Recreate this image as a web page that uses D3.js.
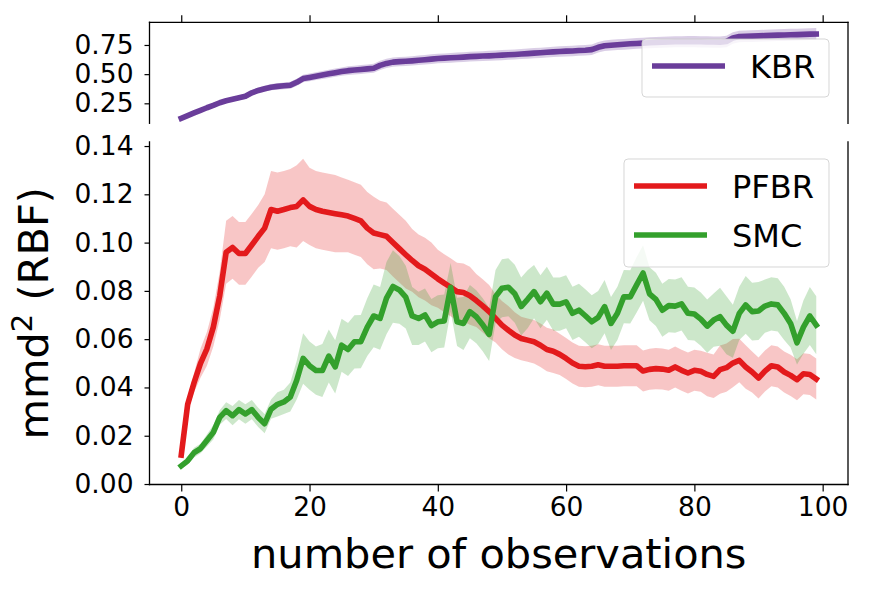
<!DOCTYPE html>
<html>
<head>
<meta charset="utf-8">
<script src="https://cdn.jsdelivr.net/npm/d3@7"></script>
<style>
  html, body { margin: 0; padding: 0; background: #fff; }
  svg { display: block; }
  text { font-family: "DejaVu Sans", sans-serif; fill: #000; }
</style>
</head>
<body>
<svg id="chart" width="869" height="591"></svg>
<script>
// ---------------- DATA ----------------
const steps = d3.range(0, 100);                 // number of observations
const xTicks = [0, 20, 40, 60, 80, 100];
const topYTicks = [0.25, 0.50, 0.75];
const bottomYTicks = [0.00, 0.02, 0.04, 0.06, 0.08, 0.10, 0.12, 0.14];

const kbrMean = [
  0.122,0.145,0.168,0.190,0.212,0.232,0.255,0.272,0.285,0.297,
  0.310,0.340,0.360,0.375,0.388,0.395,0.400,0.405,0.430,0.462,
  0.472,0.483,0.493,0.503,0.513,0.522,0.530,0.535,0.540,0.545,
  0.550,0.575,0.592,0.603,0.607,0.610,0.614,0.619,0.624,0.629,
  0.634,0.637,0.640,0.643,0.646,0.650,0.652,0.655,0.657,0.660,
  0.663,0.666,0.669,0.672,0.676,0.680,0.683,0.687,0.691,0.694,
  0.697,0.699,0.702,0.705,0.710,0.730,0.743,0.748,0.752,0.756,
  0.760,0.763,0.766,0.769,0.772,0.774,0.776,0.777,0.778,0.778,
  0.778,0.777,0.776,0.775,0.774,0.780,0.810,0.822,0.824,0.826,
  0.828,0.830,0.832,0.834,0.835,0.837,0.839,0.841,0.843,0.844];
const kbrStd = [
  0.012,0.013,0.014,0.015,0.016,0.017,0.018,0.019,0.020,0.021,
  0.022,0.024,0.025,0.026,0.027,0.028,0.029,0.030,0.031,0.032,
  0.033,0.034,0.035,0.035,0.036,0.036,0.037,0.037,0.038,0.038,
  0.039,0.039,0.040,0.040,0.040,0.040,0.040,0.041,0.041,0.041,
  0.041,0.041,0.042,0.042,0.042,0.042,0.042,0.042,0.043,0.043,
  0.043,0.043,0.043,0.043,0.044,0.044,0.044,0.044,0.044,0.044,
  0.045,0.045,0.045,0.045,0.045,0.045,0.045,0.046,0.046,0.046,
  0.046,0.046,0.046,0.047,0.047,0.047,0.047,0.047,0.047,0.048,
  0.048,0.048,0.048,0.048,0.048,0.049,0.049,0.049,0.049,0.050,
  0.050,0.050,0.050,0.050,0.051,0.051,0.051,0.051,0.051,0.051];

const pfbrMean = [
  0.012,0.033,0.042,0.050,0.056,0.065,0.078,0.096,0.098,0.0955,
  0.0955,0.099,0.1026,0.106,0.1137,0.113,0.1137,0.1145,0.115,0.1177,
  0.115,0.1137,0.113,0.1125,0.112,0.1115,0.111,0.110,0.109,0.106,
  0.104,0.1033,0.1026,0.100,0.0975,0.095,0.0926,0.0904,0.089,0.087,
  0.085,0.0832,0.0815,0.0797,0.0793,0.078,0.076,0.0738,0.0714,0.0686,
  0.0658,0.0637,0.0617,0.0603,0.0596,0.0589,0.0575,0.0557,0.055,0.0537,
  0.052,0.0501,0.0488,0.0486,0.0488,0.0494,0.0488,0.0488,0.0488,0.049,
  0.049,0.049,0.0468,0.0475,0.0478,0.0476,0.0471,0.0485,0.0471,0.046,
  0.0471,0.0467,0.0454,0.0446,0.0474,0.0482,0.0501,0.0512,0.0485,0.0464,
  0.0439,0.0468,0.049,0.0485,0.0464,0.045,0.0432,0.0457,0.0454,0.0435];
const pfbrStd = [
  0.002,0.003,0.004,0.006,0.007,0.008,0.010,0.013,0.013,0.013,
  0.013,0.013,0.013,0.014,0.016,0.016,0.016,0.016,0.017,0.017,
  0.016,0.016,0.016,0.016,0.016,0.0155,0.015,0.015,0.015,0.015,
  0.015,0.014,0.014,0.014,0.014,0.014,0.013,0.013,0.013,0.013,
  0.012,0.012,0.012,0.012,0.012,0.012,0.011,0.011,0.011,0.010,
  0.010,0.010,0.0095,0.009,0.009,0.009,0.009,0.009,0.009,0.0085,
  0.0085,0.0085,0.0085,0.0085,0.0085,0.0085,0.0085,0.0085,0.0085,0.0085,
  0.0085,0.0085,0.0085,0.0085,0.0085,0.0085,0.0085,0.0085,0.0085,0.0085,
  0.0085,0.0085,0.009,0.009,0.010,0.010,0.010,0.009,0.009,0.0085,
  0.0085,0.0085,0.0085,0.0085,0.0085,0.0085,0.0085,0.0085,0.0085,0.0085];

const smcMean = [
  0.0075,0.0096,0.013,0.0147,0.018,0.0214,0.0276,0.0304,0.0283,0.0308,
  0.029,0.0308,0.0276,0.025,0.031,0.033,0.034,0.036,0.043,0.052,
  0.049,0.047,0.047,0.053,0.0485,0.0575,0.0557,0.0589,0.059,0.065,
  0.0696,0.0686,0.077,0.0818,0.0804,0.0774,0.0696,0.0686,0.070,0.0656,
  0.0672,0.0675,0.0815,0.0672,0.0665,0.0714,0.0693,0.066,0.062,0.0776,
  0.0811,0.0815,0.0788,0.0735,0.0765,0.0797,0.0755,0.079,0.0745,0.0745,
  0.0755,0.0707,0.072,0.0697,0.0672,0.069,0.0735,0.0665,0.0707,0.0776,
  0.0775,0.0825,0.0874,0.0788,0.0765,0.072,0.0739,0.0737,0.0746,0.0707,
  0.0704,0.0683,0.0654,0.0679,0.0693,0.0658,0.0633,0.0707,0.0742,0.0714,
  0.0717,0.0737,0.0746,0.0742,0.0707,0.0665,0.0585,0.065,0.0696,0.0658];
const smcStd = [
  0.001,0.0015,0.002,0.002,0.0025,0.003,0.003,0.0035,0.004,0.004,
  0.004,0.004,0.004,0.004,0.004,0.005,0.005,0.006,0.008,0.0105,
  0.010,0.010,0.011,0.011,0.011,0.011,0.011,0.011,0.011,0.012,
  0.013,0.013,0.015,0.015,0.014,0.013,0.012,0.011,0.011,0.011,
  0.011,0.011,0.010,0.010,0.011,0.011,0.011,0.011,0.011,0.011,
  0.012,0.012,0.012,0.012,0.012,0.011,0.011,0.011,0.011,0.011,
  0.011,0.011,0.011,0.011,0.011,0.011,0.011,0.011,0.011,0.011,
  0.011,0.0115,0.0115,0.011,0.011,0.011,0.011,0.011,0.011,0.011,
  0.011,0.011,0.011,0.011,0.012,0.012,0.011,0.011,0.012,0.012,
  0.012,0.011,0.011,0.011,0.011,0.010,0.009,0.011,0.012,0.012];

const colors = { KBR: "#6a3d9a", PFBR: "#e31a1c", SMC: "#33a02c" };

// ---------------- LAYOUT ----------------
const svg = d3.select("#chart");
const xLeft = 149.5, xRight = 848;
const topP = { y0: 22.3, y1: 123.3 };
const botP = { y0: 142, y1: 484.5 };
const lineW = 5.6;

const x = d3.scaleLinear().domain([-4.95, 103.95]).range([xLeft, xRight]);
const yTop = d3.scaleLinear().domain([0.0788, 0.9443]).range([topP.y1, topP.y0]);
const yBot = d3.scaleLinear().domain([-0.0002, 0.14167]).range([botP.y1, botP.y0]);

function band(yS, mean, sd) {
  return d3.area()
    .x((d, i) => x(steps[i]))
    .y0((d, i) => yS(mean[i] - sd[i]))
    .y1((d, i) => yS(mean[i] + sd[i]))(mean);
}
function line(yS, mean) {
  return d3.line().x((d, i) => x(steps[i])).y(d => yS(d))(mean);
}

// clip paths
const defs = svg.append("defs");
defs.append("clipPath").attr("id", "clipTop").append("rect")
  .attr("x", xLeft).attr("y", topP.y0).attr("width", xRight - xLeft).attr("height", topP.y1 - topP.y0);
defs.append("clipPath").attr("id", "clipBot").append("rect")
  .attr("x", xLeft).attr("y", botP.y0).attr("width", xRight - xLeft).attr("height", botP.y1 - botP.y0);

// ---------------- TOP PANEL ----------------
const gTop = svg.append("g").attr("clip-path", "url(#clipTop)");
gTop.append("path").attr("d", band(yTop, kbrMean, kbrStd))
  .attr("fill", colors.KBR).attr("fill-opacity", 0.25).attr("stroke", "none");
gTop.append("path").attr("d", line(yTop, kbrMean))
  .attr("fill", "none").attr("stroke", colors.KBR).attr("stroke-width", lineW)
  .attr("stroke-linejoin", "round").attr("stroke-linecap", "square");

// ---------------- BOTTOM PANEL ----------------
const gBot = svg.append("g").attr("clip-path", "url(#clipBot)");
gBot.append("path").attr("d", band(yBot, pfbrMean, pfbrStd))
  .attr("fill", colors.PFBR).attr("fill-opacity", 0.25);
gBot.append("path").attr("d", band(yBot, smcMean, smcStd))
  .attr("fill", colors.SMC).attr("fill-opacity", 0.25);
gBot.append("path").attr("d", line(yBot, pfbrMean))
  .attr("fill", "none").attr("stroke", colors.PFBR).attr("stroke-width", lineW)
  .attr("stroke-linejoin", "round").attr("stroke-linecap", "square");
gBot.append("path").attr("d", line(yBot, smcMean))
  .attr("fill", "none").attr("stroke", colors.SMC).attr("stroke-width", lineW)
  .attr("stroke-linejoin", "round").attr("stroke-linecap", "square");

// ---------------- AXES ----------------
const tickFont = 26.5;
const axTopX = svg.append("g").attr("transform", `translate(0,${topP.y0})`)
  .call(d3.axisTop(x).tickValues(xTicks).tickSize(7).tickFormat(""));
const axTopY = svg.append("g").attr("transform", `translate(${xLeft},0)`)
  .call(d3.axisLeft(yTop).tickValues(topYTicks).tickSize(5).tickPadding(11).tickFormat(d3.format(".2f")));
const axBotX = svg.append("g").attr("transform", `translate(0,${botP.y1})`)
  .call(d3.axisBottom(x).tickValues(xTicks).tickSize(7).tickPadding(6).tickFormat(d3.format("d")));
const axBotY = svg.append("g").attr("transform", `translate(${xLeft},0)`)
  .call(d3.axisLeft(yBot).tickValues(bottomYTicks).tickSize(5).tickPadding(11).tickFormat(d3.format(".2f")));

[axTopX, axTopY, axBotX, axBotY].forEach(g => {
  g.select(".domain").remove();
  g.selectAll(".tick line").attr("stroke", "#000").attr("stroke-width", 1.2);
  g.selectAll(".tick text").attr("font-size", tickFont)
    .attr("font-family", "DejaVu Sans, sans-serif").attr("fill", "#000");
});

// spines
const spine = (x1, y1, x2, y2) => svg.append("line")
  .attr("x1", x1).attr("y1", y1).attr("x2", x2).attr("y2", y2)
  .attr("stroke", "#000").attr("stroke-width", 1.3).attr("stroke-linecap", "square");
spine(xLeft, topP.y0, xRight, topP.y0);
spine(xLeft, topP.y0, xLeft, topP.y1);
spine(xRight, topP.y0, xRight, topP.y1);
spine(xLeft, botP.y0, xLeft, botP.y1);
spine(xRight, botP.y0, xRight, botP.y1);
spine(xLeft, botP.y1, xRight, botP.y1);

// axis labels
svg.append("text")
  .attr("x", (xLeft + xRight) / 2).attr("y", 568)
  .attr("text-anchor", "middle").attr("font-size", 41.5)
  .text("number of observations");

const yl = svg.append("text")
  .attr("transform", `translate(48,${(botP.y0 + botP.y1) / 2}) rotate(-90)`)
  .attr("text-anchor", "middle").attr("font-size", 41.5);
yl.append("tspan").text("mmd");
yl.append("tspan").attr("font-size", 29).attr("dy", -16).text("2");
yl.append("tspan").attr("dy", 16).text(" (RBF)");

// ---------------- LEGENDS ----------------
function legend(x0, y0, w, h, items) {
  const g = svg.append("g");
  g.append("rect").attr("x", x0).attr("y", y0).attr("width", w).attr("height", h)
    .attr("rx", 4).attr("fill", "#fff").attr("fill-opacity", 0.8)
    .attr("stroke", "#cccccc").attr("stroke-opacity", 0.8).attr("stroke-width", 1);
  items.forEach(it => {
    g.append("line").attr("x1", x0 + 10).attr("x2", x0 + 83)
      .attr("y1", it.y).attr("y2", it.y)
      .attr("stroke", colors[it.name]).attr("stroke-width", lineW);
    g.append("text").attr("x", x0 + 108).attr("y", it.y + 12)
      .attr("font-size", 32).text(it.name);
  });
}
legend(642, 39, 187, 58, [{ name: "KBR", y: 66 }]);
legend(624, 159, 205, 108, [{ name: "PFBR", y: 186 }, { name: "SMC", y: 235 }]);
</script>
</body>
</html>
